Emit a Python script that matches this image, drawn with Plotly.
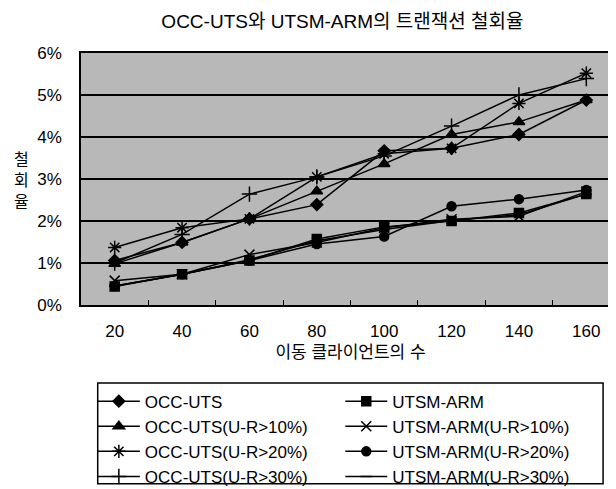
import plotly.graph_objects as go

clients = ["20", "40", "60", "80", "100", "120", "140", "160"]

occ_uts = [1.06, 1.49, 2.05, 2.39, 3.67, 3.73, 4.06, 4.88]
utsm_arm = [0.44, 0.73, 1.06, 1.57, 1.86, 2.00, 2.19, 2.64]
occ_uts_10 = [0.98, 1.49, 2.05, 2.71, 3.36, 4.06, 4.36, 4.88]
utsm_arm_10 = [0.58, 0.73, 1.20, 1.49, 1.84, 2.04, 2.11, 2.70]
occ_uts_20 = [1.37, 1.84, 2.05, 3.05, 3.60, 3.73, 4.80, 5.52]
utsm_arm_20 = [0.45, 0.73, 1.06, 1.45, 1.63, 2.35, 2.52, 2.74]
occ_uts_30 = [1.00, 1.68, 2.64, 3.05, 3.55, 4.26, 5.00, 5.39]
utsm_arm_30 = [0.45, 0.73, 1.08, 1.53, 1.80, 2.01, 2.15, 2.64]

y_ticks = [0, 1, 2, 3, 4, 5, 6]
y_labels = ["0%", "1%", "2%", "3%", "4%", "5%", "6%"]

# (name, values, marker, size, legend column)
series = [
    ("OCC-UTS", occ_uts, "diamond", 9, "legend"),
    ("OCC-UTS(U-R>10%)", occ_uts_10, "triangle-up", 10, "legend"),
    ("OCC-UTS(U-R>20%)", occ_uts_20, "asterisk-open", 11, "legend"),
    ("OCC-UTS(U-R>30%)", occ_uts_30, "cross-thin-open", 11, "legend"),
    ("UTSM-ARM", utsm_arm, "square", 9, "legend2"),
    ("UTSM-ARM(U-R>10%)", utsm_arm_10, "x-thin-open", 10, "legend2"),
    ("UTSM-ARM(U-R>20%)", utsm_arm_20, "circle", 9, "legend2"),
    ("UTSM-ARM(U-R>30%)", utsm_arm_30, "line-ew-open", 8, "legend2"),
]

FONT = "Liberation Sans, Arial, Noto Sans CJK KR, sans-serif"

fig = go.Figure()
for name, vals, sym, size, leg in series:
    fig.add_trace(go.Scatter(
        x=clients, y=vals, name=name, mode="lines+markers", legend=leg,
        line=dict(color="black", width=1.5),
        marker=dict(symbol=sym, size=size, color="black",
                    line=dict(color="black", width=1.5)),
    ))

leg_common = dict(orientation="v", yanchor="top", y=-0.312,
                  xanchor="left", bgcolor="rgba(0,0,0,0)", borderwidth=0,
                  tracegroupgap=0, itemwidth=42,
                  font=dict(size=17, family=FONT))

fig.update_layout(
    width=616, height=489,
    margin=dict(l=73, r=2, t=45, b=186),
    paper_bgcolor="white",
    plot_bgcolor="#b8b8b8",
    font=dict(family=FONT, color="black", size=17),
    title=dict(text="OCC-UTS와 UTSM-ARM의 트랜잭션 철회율",
               x=0.485, xref="paper", xanchor="center",
               y=0.972, yanchor="middle",
               font=dict(size=19, family=FONT)),
    xaxis=dict(type="category", range=[-0.5, 7.5], showgrid=False,
               tickson="boundaries", ticks="inside", ticklen=5,
               tickcolor="black", showline=True, linecolor="black",
               linewidth=1.5, mirror=True, ticklabelstandoff=10,
               title=dict(text="이동 클라이언트의 수", font=dict(size=17),
                          standoff=6),
               tickfont=dict(size=17)),
    yaxis=dict(range=[0, 6], tickvals=y_ticks, ticktext=y_labels,
               showgrid=True, gridcolor="black", gridwidth=1.5,
               zeroline=False, showline=True, linecolor="black",
               linewidth=1.5, mirror=True, ticks="",
               ticklabelstandoff=14, tickfont=dict(size=17)),
    legend=dict(x=0.022, **leg_common),
    legend2=dict(x=0.481, **leg_common),
    showlegend=True,
)

# single frame around both legend columns
fig.add_shape(type="rect", xref="paper", yref="paper",
              x0=0.031, x1=0.9686, y0=-0.31, y1=-0.709,
              line=dict(color="black", width=1.5), fillcolor="rgba(0,0,0,0)")

fig.add_annotation(text="철<br>회<br>율", xref="paper", yref="paper",
                   x=-0.11, y=0.496, xanchor="center", yanchor="middle",
                   showarrow=False, font=dict(size=16, family=FONT))

fig.write_html("out.html")
